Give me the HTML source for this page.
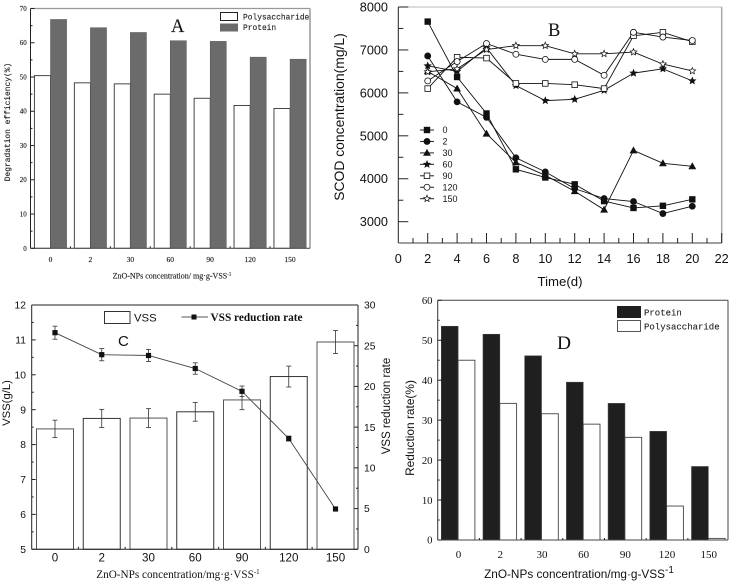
<!DOCTYPE html>
<html lang="en">
<head>
<meta charset="utf-8">
<title>ZnO-NPs multi-panel chart</title>
<style>
html,body{margin:0;padding:0;background:#fff;}
svg{display:block;}
.serif{font-family:"Liberation Serif",serif;}
.sans{font-family:"Liberation Sans",sans-serif;}
.mono{font-family:"Liberation Mono",monospace;}
#panelA text{stroke:#333;stroke-width:0.15;}
#panelD text.mono{stroke:#333;stroke-width:0.12;}
</style>
</head>
<body>
<svg id="figure" width="730" height="582" viewBox="0 0 730 582" xmlns="http://www.w3.org/2000/svg" style="filter:blur(0.35px)">
  <rect x="0" y="0" width="730" height="582" fill="#fff"/>

  <g id="panelA">
    <text class="serif" x="171" y="32" font-size="18.5" fill="#111">A</text>
    <text class="mono" transform="translate(10,122) rotate(-90)" text-anchor="middle" font-size="7.9" fill="#222">Degradation efficiency(%)</text>
    <text class="serif" x="172" y="278.5" text-anchor="middle" font-size="8" fill="#222">ZnO-NPs concentration/ mg·g-VSS<tspan dy="-3" font-size="5">-1</tspan></text>
    <rect x="220.5" y="12.5" width="17" height="8" fill="#fff" stroke="#222" stroke-width="1"/>
    <rect x="220" y="23.5" width="18" height="8" fill="#6b6b6b"/>
    <text class="mono" x="243" y="19.5" font-size="7.9" fill="#222">Polysaccharide</text>
    <text class="mono" x="243" y="30" font-size="7.9" fill="#222">Protein</text>
  </g>

  <g id="panelB">
    <text class="serif" x="548" y="36" font-size="18.5" fill="#111">B</text>
    <text class="sans" transform="translate(344,117) rotate(-90)" text-anchor="middle" font-size="13.9" fill="#111">SCOD concentration(mg/L)</text>
    <text class="sans" x="560" y="286" text-anchor="middle" font-size="13.2" fill="#111">Time(d)</text>
  </g>

  <g id="panelC">
    <text class="sans" x="118" y="346" font-size="15" fill="#111">C</text>
    <text class="sans" transform="translate(10,403) rotate(-90)" text-anchor="middle" font-size="11.3" fill="#111">VSS(g/L)</text>
    <text class="sans" transform="translate(390,406) rotate(-90)" text-anchor="middle" font-size="11.5" fill="#111">VSS reduction rate</text>
    <text class="serif" x="178" y="578" text-anchor="middle" font-size="11.2" fill="#111">ZnO-NPs concentration/mg·g·VSS<tspan dy="-4" font-size="7">-1</tspan></text>
    <rect x="104.5" y="311.5" width="25.5" height="12" fill="#fff" stroke="#333" stroke-width="1"/>
    <text class="sans" x="134" y="321.5" font-size="11.3" fill="#111">VSS</text>
    <line x1="181.5" y1="317" x2="208" y2="317" stroke="#555" stroke-width="1"/>
    <rect x="191.5" y="314.5" width="5" height="5" fill="#111"/>
    <text class="serif" x="210.5" y="321" font-size="11.3" font-weight="bold" fill="#111">VSS reduction rate</text>
  </g>

  <g id="panelD">
    <text class="serif" x="557" y="349" font-size="19.4" fill="#111">D</text>
    <text class="sans" transform="translate(414,428) rotate(-90)" text-anchor="middle" font-size="11.9" fill="#111">Reduction rate(%)</text>
    <text class="sans" x="579" y="578" text-anchor="middle" font-size="11.8" fill="#111">ZnO-NPs concentration/mg·g-VSS<tspan dy="-5" font-size="10">-1</tspan></text>
    <rect x="617" y="306" width="24" height="12" fill="#1f1f1f"/>
    <rect x="617.5" y="320.5" width="23" height="11" fill="#fff" stroke="#555" stroke-width="1"/>
    <text class="mono" x="644" y="315.5" font-size="9" fill="#222">Protein</text>
    <text class="mono" x="644" y="329.5" font-size="9" fill="#222">Polysaccharide</text>
  </g>
</svg>

<script>
// ---------- Shared categories ----------
const concentrationLabels = ['0', '2', '30', '60', '90', '120', '150'];

// ---------- Panel A data ----------
const aPolysaccharide = [50.4, 48.3, 48.0, 45.0, 43.8, 41.7, 40.8];
const aProtein = [66.8, 64.4, 63.0, 60.6, 60.4, 55.8, 55.2];
const aYTicks = [0, 10, 20, 30, 40, 50, 60, 70];

// ---------- Panel B data ----------
const bDays = [2, 4, 6, 8, 10, 12, 14, 16, 18, 20];
const bXTicks = [0, 2, 4, 6, 8, 10, 12, 14, 16, 18, 20, 22];
const bYTicks = [3000, 4000, 5000, 6000, 7000, 8000];
const bSeries0 = [7660, 6370, 5520, 4220, 4030, 3870, 3480, 3320, 3370, 3520];
const bSeries2 = [6860, 5790, 5430, 4490, 4160, 3770, 3540, 3470, 3190, 3360];
const bSeries30 = [6500, 6100, 5050, 4380, 4080, 3710, 3280, 4660, 4360, 4290];
const bSeries60 = [6630, 6500, 7050, 6170, 5820, 5850, 6060, 6460, 6560, 6280];
const bSeries90 = [6100, 6830, 6810, 6220, 6220, 6190, 6100, 7330, 7410, 7190];
const bSeries120 = [6280, 6730, 7150, 6900, 6780, 6780, 6410, 7410, 7300, 7220];
const bSeries150 = [6490, 6560, 7010, 7100, 7100, 6910, 6910, 6950, 6670, 6510];
const bSeriesLabels = ['0', '2', '30', '60', '90', '120', '150'];

// ---------- Panel C data ----------
const cVss = [8.45, 8.75, 8.76, 8.94, 9.28, 9.95, 10.94];
const cVssError = [0.25, 0.26, 0.27, 0.27, 0.28, 0.30, 0.33];
const cRate = [26.6, 23.9, 23.8, 22.2, 19.4, 13.6, 4.95];
const cRateError = [0.8, 0.75, 0.75, 0.7, 0.65, 0.3, 0.15];
const cLeftTicks = [5, 6, 7, 8, 9, 10, 11, 12];
const cRightTicks = [0, 5, 10, 15, 20, 25, 30];

// ---------- Panel D data ----------
const dProtein = [53.5, 51.5, 46.1, 39.5, 34.2, 27.2, 18.4];
const dPolysaccharide = [45.0, 34.2, 31.6, 29.0, 25.7, 8.5, 0.4];
const dYTicks = [0, 10, 20, 30, 40, 50, 60];

// ---------- Helpers ----------
const SVGNS = 'http://www.w3.org/2000/svg';
function make(tag, parent, attrs) {
  const node = document.createElementNS(SVGNS, tag);
  for (const key in attrs) node.setAttribute(key, attrs[key]);
  parent.appendChild(node);
  return node;
}
function linear(d0, d1, r0, r1) {
  return function (v) { return r0 + (v - d0) * (r1 - r0) / (d1 - d0); };
}
function line(parent, x1, y1, x2, y2, color, width, name) {
  const l = make('line', parent, { x1: x1, y1: y1, x2: x2, y2: y2, stroke: color, 'stroke-width': width });
  
  
  return l;
}
function label(parent, x, y, str, cls, size, anchor, name) {
  const t = make('text', parent, { x: x, y: y, class: cls, 'font-size': size, 'text-anchor': anchor, fill: '#111' });
  t.textContent = str;
  
  
  return t;
}
function yTicks(parent, scale, ticks, edgeX, dir, major, minor, labelX, anchor, cls, size, prefix) {
  ticks.forEach(function (v, i) {
    const y = scale(v);
    line(parent, edgeX, y, edgeX + dir * major, y, '#222', 1, prefix + '-tick');
    label(parent, labelX, y + size * 0.35, String(v), cls, size, anchor, prefix + '-tick-label');
    if (i < ticks.length - 1) {
      const my = scale((v + ticks[i + 1]) / 2);
      line(parent, edgeX, my, edgeX + dir * minor, my, '#222', 1, prefix + '-minor-tick');
    }
  });
}
function categoryAxis(parent, left, step, baseY, tickLen, labels, labelY, cls, size, prefix) {
  labels.forEach(function (s, i) {
    label(parent, left + step * (i + 0.5), labelY, s, cls, size, 'middle', prefix + '-tick-label');
    if (i > 0) line(parent, left + step * i, baseY, left + step * i, baseY - tickLen, '#222', 1, prefix + '-tick');
  });
}
function groupedBars(parent, cats, left, step, barW, pad, scale, baseY, first, second, firstStyle, secondStyle, firstName, secondName) {
  cats.forEach(function (c, i) {
    const x0 = left + step * i + pad;
    const r1 = make('rect', parent, { x: x0, y: scale(first[i]), width: barW, height: baseY - scale(first[i]), fill: firstStyle.fill, stroke: firstStyle.stroke, 'stroke-width': firstStyle.sw });
    
    
    const r2 = make('rect', parent, { x: x0 + barW, y: scale(second[i]), width: barW, height: baseY - scale(second[i]), fill: secondStyle.fill, stroke: secondStyle.stroke, 'stroke-width': secondStyle.sw });
    
    
  });
}
function starPoints(cx, cy, R) {
  const pts = [];
  for (let k = 0; k < 10; k++) {
    const rad = k % 2 === 0 ? R : R * 0.45;
    const a = -Math.PI / 2 + k * Math.PI / 5;
    pts.push((cx + rad * Math.cos(a)).toFixed(2) + ',' + (cy + rad * Math.sin(a)).toFixed(2));
  }
  return pts.join(' ');
}
function marker(parent, kind, cx, cy, fill) {
  const stroke = '#111';
  if (kind === 'square') return make('rect', parent, { x: cx - 2.8, y: cy - 2.8, width: 5.6, height: 5.6, fill: fill, stroke: stroke, 'stroke-width': 0.8 });
  if (kind === 'circle') return make('circle', parent, { cx: cx, cy: cy, r: 3, fill: fill, stroke: stroke, 'stroke-width': 0.8 });
  if (kind === 'triangle') return make('polygon', parent, { points: (cx) + ',' + (cy - 3.4) + ' ' + (cx + 3.4) + ',' + (cy + 2.6) + ' ' + (cx - 3.4) + ',' + (cy + 2.6), fill: fill, stroke: stroke, 'stroke-width': 0.6 });
  return make('polygon', parent, { points: starPoints(cx, cy, 3.5), fill: fill, stroke: stroke, 'stroke-width': 0.7 });
}

// ---------- Panel A ----------
(function () {
  const g = document.getElementById('panelA');
  const L = 30.5, R = 310, T = 8.5, B = 248.3;
  const y = linear(0, 70, B, T);
  const step = (R - L) / 7;
  groupedBars(g, concentrationLabels, L, step, 16.1, 3.9, y, B, aPolysaccharide, aProtein,
    { fill: '#fff', stroke: '#333', sw: 0.9 }, { fill: '#6b6b6b', stroke: '#555', sw: 0.5 },
    'bar-polysaccharide', 'bar-protein');
  line(g, L, T, R, T, '#999', 1.2, 'panel-a-top-border');
  line(g, R, T, R, B, '#999', 1.5, 'panel-a-right-border');
  line(g, L, T, L, B, '#222', 1, 'panel-a-y-axis');
  line(g, L, B, R, B, '#555', 1.2, 'panel-a-x-axis');
  yTicks(g, y, aYTicks, L, 1, 4, 2, 26.8, 'end', 'serif', 7, 'panel-a-y');
  categoryAxis(g, L, step, B, 2, concentrationLabels, 262, 'serif', 7.5, 'panel-a-x');
})();

// ---------- Panel B ----------
(function () {
  const g = document.getElementById('panelB');
  const L = 398.3, R = 721.7, T = 7, B = 243;
  const x = linear(0, 22, L, R);
  const y = linear(3000, 8000, 221.7, T);
  line(g, L, T, R, T, '#bbb', 1, 'panel-b-top-border');
  line(g, R, T, R, B, '#aaa', 1.5, 'panel-b-right-border');
  line(g, L, T, L, B, '#222', 1, 'panel-b-y-axis');
  line(g, L, B, R, B, '#666', 1.2, 'panel-b-x-axis');
  yTicks(g, y, bYTicks, L, 1, 10, 5, 388, 'end', 'sans', 12.7, 'panel-b-y');
  bXTicks.forEach(function (v, i) {
    line(g, x(v), B, x(v), B - (i === 0 ? 0 : 10), '#222', 1, 'panel-b-x-tick');
    label(g, x(v), 263, String(v), 'sans', 12.7, 'middle', 'panel-b-x-tick-label');
    if (i < bXTicks.length - 1) line(g, x(v + 1), B, x(v + 1), B - 5, '#222', 1, 'panel-b-x-minor-tick');
  });
  const allSeries = [bSeries0, bSeries2, bSeries30, bSeries60, bSeries90, bSeries120, bSeries150];
  const kinds = ['square', 'circle', 'triangle', 'star', 'square', 'circle', 'star'];
  const fills = ['#111', '#111', '#111', '#111', '#fff', '#fff', '#fff'];
  allSeries.forEach(function (vals, s) {
    const path = make('polyline', g, { points: vals.map(function (v, i) { return x(bDays[i]) + ',' + y(v); }).join(' '), fill: 'none', stroke: '#111', 'stroke-width': 0.9 });
    
    
  });
  allSeries.forEach(function (vals, s) {
    vals.forEach(function (v, i) {
      const m = marker(g, kinds[s], x(bDays[i]), y(v), fills[s]);
      
      
    });
    const ly = 130 + s * 11.45;
    line(g, 420, ly, 434, ly, '#222', 1, 'legend-line-' + bSeriesLabels[s]);
    const lm = marker(g, kinds[s], 427, ly, fills[s]);
    
    
    label(g, 442.5, ly + 3.2, bSeriesLabels[s], 'sans', 9, 'start', 'legend-label-' + bSeriesLabels[s]);
  });
})();

// ---------- Panel C ----------
(function () {
  const g = document.getElementById('panelC');
  const L = 31.7, R = 358, T = 305, B = 549.3;
  const yL = linear(5, 12, B, T);
  const yR = linear(0, 30, B, T);
  const step = 46.75;
  const xc = function (i) { return 55 + step * i; };
  const barW = 37;
  cVss.forEach(function (v, i) {
    const b = make('rect', g, { x: xc(i) - barW / 2, y: yL(v), width: barW, height: B - yL(v), fill: '#fff', stroke: i % 2 === 0 ? '#555' : '#333', 'stroke-width': 1 });
    
    
  });
  cVss.forEach(function (v, i) {
    line(g, xc(i), yL(v + cVssError[i]), xc(i), yL(v - cVssError[i]), '#333', 0.8, 'vss-error-bar');
    line(g, xc(i) - 2.5, yL(v + cVssError[i]), xc(i) + 2.5, yL(v + cVssError[i]), '#333', 0.8, 'vss-error-cap');
    line(g, xc(i) - 2.5, yL(v - cVssError[i]), xc(i) + 2.5, yL(v - cVssError[i]), '#333', 0.8, 'vss-error-cap');
  });
  line(g, L, T, R, T, '#222', 1, 'panel-c-top-border');
  line(g, R, T, R, B, '#222', 1, 'panel-c-right-axis');
  line(g, L, T, L, B, '#222', 1, 'panel-c-left-axis');
  line(g, L, B, R, B, '#222', 1, 'panel-c-x-axis');
  yTicks(g, yL, cLeftTicks, L, 1, 4, 2, 26, 'end', 'sans', 10.3, 'panel-c-left');
  yTicks(g, yR, cRightTicks, R, -1, 4, 2, 364, 'start', 'sans', 10.3, 'panel-c-right');
  categoryAxis(g, xc(0) - step / 2, step, B, 2.5, concentrationLabels, 561.5, 'sans', 11.6, 'panel-c-x');
  const rl = make('polyline', g, { points: cRate.map(function (v, i) { return xc(i) + ',' + yR(v); }).join(' '), fill: 'none', stroke: '#444', 'stroke-width': 0.9 });
  
  
  cRate.forEach(function (v, i) {
    line(g, xc(i), yR(v + cRateError[i]), xc(i), yR(v - cRateError[i]), '#333', 0.8, 'rate-error-bar');
    line(g, xc(i) - 2.5, yR(v + cRateError[i]), xc(i) + 2.5, yR(v + cRateError[i]), '#333', 0.8, 'rate-error-cap');
    line(g, xc(i) - 2.5, yR(v - cRateError[i]), xc(i) + 2.5, yR(v - cRateError[i]), '#333', 0.8, 'rate-error-cap');
    const p = make('rect', g, { x: xc(i) - 2.6, y: yR(v) - 2.6, width: 5.2, height: 5.2, fill: '#111' });
    
    
  });
})();

// ---------- Panel D ----------
(function () {
  const g = document.getElementById('panelD');
  const L = 437.7, R = 728, T = 300.3, B = 540;
  const y = linear(0, 60, B, T);
  const step = 41.7;
  groupedBars(g, concentrationLabels, L, step, 16.8, 3.6, y, B, dProtein, dPolysaccharide,
    { fill: '#1f1f1f', stroke: '#444', sw: 0.6 }, { fill: '#fff', stroke: '#444', sw: 0.9 },
    'bar-protein-d', 'bar-polysaccharide-d');
  line(g, L, T, R, T, '#444', 1, 'panel-d-top-border');
  line(g, R, T, R, B, '#444', 1, 'panel-d-right-border');
  line(g, L, T, L, B, '#333', 1, 'panel-d-y-axis');
  line(g, L, B, R, B, '#444', 1, 'panel-d-x-axis');
  yTicks(g, y, dYTicks, L, 1, 4, 2, 432.5, 'end', 'serif', 10.7, 'panel-d-y');
  categoryAxis(g, L, step, B, 2, concentrationLabels, 558, 'serif', 11, 'panel-d-x');
})();
</script>
</body>
</html>
